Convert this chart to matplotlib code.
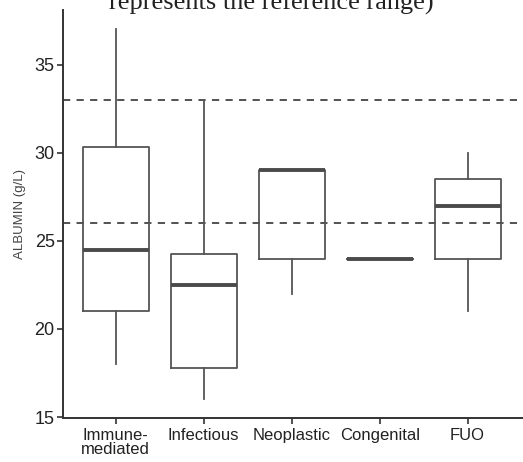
import matplotlib
matplotlib.use("Agg")
import matplotlib.pyplot as plt

plt.rcParams["font.family"] = ["Liberation Sans", "DejaVu Sans"]

# Albumin summary statistics per diagnostic group (g/L)
categories = ["Immune-\nmediated", "Infectious", "Neoplastic", "Congenital", "FUO"]
whisker_low = [18.0, 16.0, 22.0, 24.0, 21.0]
q1 = [21.0, 17.8, 24.0, 24.0, 24.0]
median = [24.5, 22.5, 29.0, 24.0, 27.0]
q3 = [30.3, 24.25, 29.0, 24.0, 28.5]
whisker_high = [37.0, 33.0, 29.0, 24.0, 30.0]

# Reference range for albumin
ref_range = [26.0, 33.0]

yticks = [15, 20, 25, 30, 35]

fig = plt.figure(figsize=(5.23, 4.62), dpi=100)
ax = fig.add_axes([63 / 523, 44 / 462, (523 - 63) / 523, (418 - 10) / 462])

stats = []
for i, lab in enumerate(categories):
    stats.append(dict(label=lab, med=median[i], q1=q1[i], q3=q3[i],
                      whislo=whisker_low[i], whishi=whisker_high[i], fliers=[]))

positions = list(range(1, len(categories) + 1))
box_color = "#555555"
ax.bxp(stats, positions=positions, widths=0.75, showcaps=False, showfliers=False,
       boxprops=dict(color=box_color, linewidth=1.3),
       whiskerprops=dict(color=box_color, linewidth=1.3),
       medianprops=dict(color="#4a4a4a", linewidth=2.8, solid_capstyle="butt"))

for r in ref_range:
    ax.axhline(r, color="#444444", linewidth=1.3, linestyle=(0, (4, 3.5)), zorder=0,
               xmin=0, xmax=0.987)

ax.set_xlim(0.4, 5.63)
ax.set_ylim(14.95, 38.1)
ax.set_yticks(yticks)
ax.set_yticklabels([str(t) for t in yticks])
ax.set_xticks(positions)
ax.set_xticklabels(categories, linespacing=0.95)

for s in ["top", "right"]:
    ax.spines[s].set_visible(False)
for s in ["left", "bottom"]:
    ax.spines[s].set_color("#333333")
    ax.spines[s].set_linewidth(1.4)

ax.tick_params(axis="y", labelsize=13, colors="#333333", length=4, width=1.2, pad=2,
               labelcolor="#222222")
ax.tick_params(axis="x", labelsize=12, colors="#333333", length=4, width=1.2, pad=3,
               labelcolor="#222222")

ax.set_ylabel("ALBUMIN (g/L)", fontsize=9.5, color="#444444", labelpad=6)

fig.text(0.519, 1 - 10 / 462, "represents the reference range)", ha="center",
         va="baseline", fontsize=19, family="Liberation Serif", color="#222222")

fig.savefig("out.png", dpi=100)
